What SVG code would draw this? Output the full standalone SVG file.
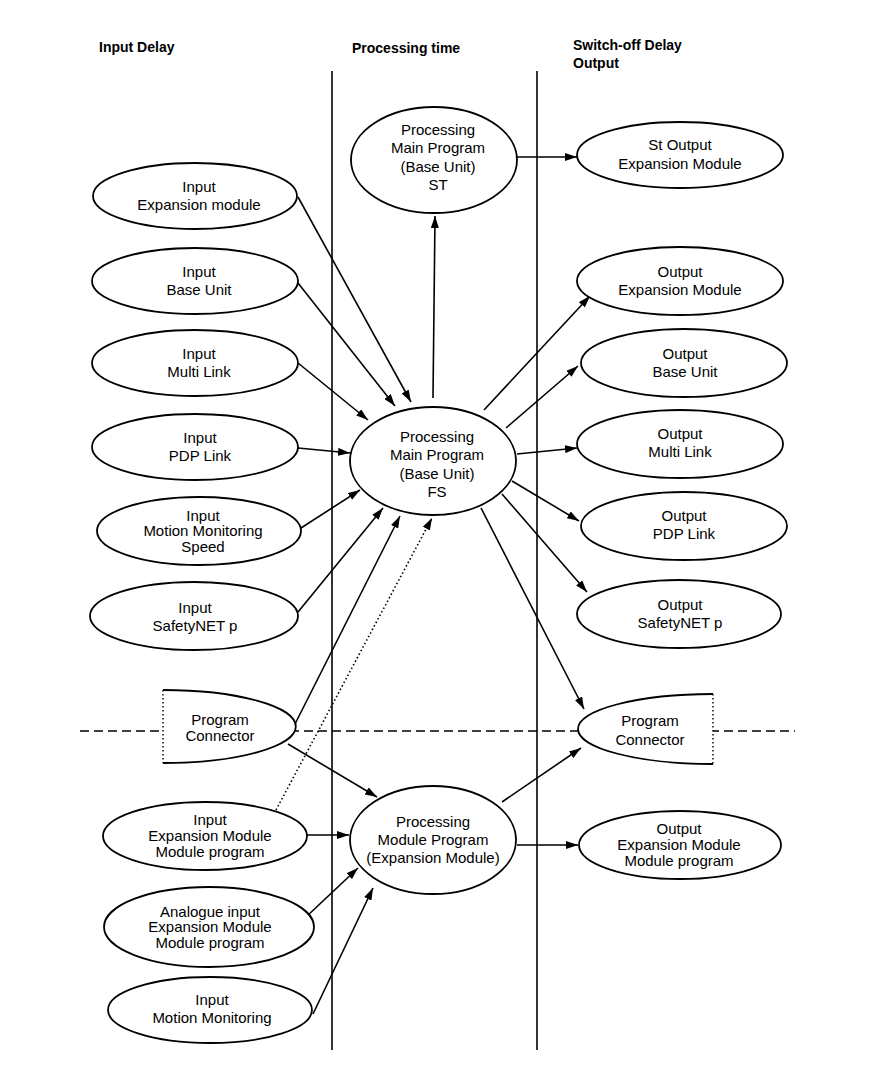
<svg xmlns="http://www.w3.org/2000/svg" width="890" height="1086" viewBox="0 0 890 1086">
<defs>
<marker id="ah" viewBox="0 0 12 8" refX="12" refY="4" markerWidth="12" markerHeight="8" markerUnits="userSpaceOnUse" orient="auto">
<path d="M0,0 L12,4 L0,8 Z" fill="#000"/>
</marker>
</defs>
<style>
text{font-family:"Liberation Sans",Arial,sans-serif;font-size:15px;fill:#000;text-anchor:middle}
.h{font-size:14px;font-weight:bold;text-anchor:start}
ellipse,.pc{fill:#fff;stroke:#000;stroke-width:1.8}
.c line{stroke:#000;stroke-width:1.6;marker-end:url(#ah)}
.dot{stroke:#000;stroke-width:1.4;stroke-dasharray:1.5,2.5;fill:none}
</style>
<rect width="890" height="1086" fill="#fff"/>
<g id="headers">
<text class="h" x="99" y="52">Input Delay</text>
<text class="h" x="352" y="53">Processing time</text>
<text class="h" x="573" y="50">Switch-off Delay</text>
<text class="h" x="573" y="68">Output</text>
</g>
<g id="lanes" stroke="#000" stroke-width="1.6">
<line x1="332" y1="71" x2="332" y2="1050"/>
<line x1="537" y1="71" x2="537" y2="1050"/>
<line x1="80" y1="731" x2="795" y2="731" stroke-dasharray="9,5"/>
</g>
<g class="c" id="connectors">
<line x1="517" y1="157" x2="577" y2="157"/>
<line x1="433" y1="398" x2="435" y2="216"/>
<line x1="298" y1="197" x2="411" y2="402"/>
<line x1="298" y1="283" x2="395" y2="406"/>
<line x1="298" y1="363" x2="368" y2="420"/>
<line x1="298" y1="448" x2="350" y2="453"/>
<line x1="301" y1="528" x2="360" y2="490"/>
<line x1="298" y1="612" x2="383" y2="508"/>
<line x1="294" y1="726" x2="400" y2="516"/>
<line x1="288" y1="744" x2="377" y2="797"/>
<line x1="306" y1="835" x2="349" y2="835"/>
<line x1="306" y1="917" x2="358" y2="868"/>
<line x1="313" y1="1014" x2="373" y2="888"/>
<line x1="484" y1="410" x2="590" y2="296"/>
<line x1="506" y1="428" x2="578" y2="366"/>
<line x1="517" y1="454" x2="577" y2="448"/>
<line x1="512" y1="481" x2="579" y2="521"/>
<line x1="502" y1="494" x2="587" y2="592"/>
<line x1="481" y1="508" x2="584" y2="709"/>
<line x1="502" y1="802" x2="581" y2="748"/>
<line x1="517" y1="845" x2="578" y2="845"/>
<line x1="276" y1="810" x2="432" y2="518" stroke-dasharray="1.5,2.5" stroke-width="1.4"/>
</g>
<g id="n_in_exp"><ellipse cx="195" cy="196" rx="102" ry="33"/><text x="199" y="192">Input</text><text x="199" y="210">Expansion module</text></g>
<g id="n_in_base"><ellipse cx="195" cy="281" rx="103" ry="33"/><text x="199" y="277">Input</text><text x="199" y="295">Base Unit</text></g>
<g id="n_in_multi"><ellipse cx="195" cy="363" rx="103" ry="33"/><text x="199" y="359">Input</text><text x="199" y="377">Multi Link</text></g>
<g id="n_in_pdp"><ellipse cx="195" cy="447" rx="103" ry="33"/><text x="200" y="443">Input</text><text x="200" y="461">PDP Link</text></g>
<g id="n_in_mms"><ellipse cx="199" cy="531" rx="102" ry="34"/><text x="203" y="521">Input</text><text x="203" y="536">Motion Monitoring</text><text x="203" y="552">Speed</text></g>
<g id="n_in_snet"><ellipse cx="194" cy="616" rx="104" ry="34"/><text x="195" y="613">Input</text><text x="195" y="631">SafetyNET p</text></g>
<g id="n_pc_left"><path class="pc" d="M163,690 A131,36 0 0 1 163,763"/><line x1="163" y1="690" x2="163" y2="763" class="dot"/><text x="220" y="725">Program</text><text x="220" y="741">Connector</text></g>
<g id="n_in_expprog"><ellipse cx="205" cy="836" rx="102" ry="34"/><text x="210" y="825">Input</text><text x="210" y="841">Expansion Module</text><text x="210" y="857">Module program</text></g>
<g id="n_in_analog"><ellipse cx="209" cy="927" rx="105" ry="40"/><text x="210" y="917">Analogue input</text><text x="210" y="932">Expansion Module</text><text x="210" y="948">Module program</text></g>
<g id="n_in_mm"><ellipse cx="210" cy="1010" rx="102" ry="33"/><text x="212" y="1005">Input</text><text x="212" y="1023">Motion Monitoring</text></g>
<g id="n_proc_st"><ellipse cx="434" cy="160" rx="83" ry="53"/><text x="438" y="135">Processing</text><text x="438" y="153">Main Program</text><text x="438" y="172">(Base Unit)</text><text x="438" y="190">ST</text></g>
<g id="n_proc_fs"><ellipse cx="433" cy="461" rx="83" ry="54"/><text x="437" y="442">Processing</text><text x="437" y="460">Main Program</text><text x="437" y="479">(Base Unit)</text><text x="437" y="497">FS</text></g>
<g id="n_proc_mod"><ellipse cx="433" cy="840" rx="83" ry="54"/><text x="433" y="827">Processing</text><text x="433" y="845">Module Program</text><text x="433" y="863">(Expansion Module)</text></g>
<g id="n_out_st"><ellipse cx="680" cy="155" rx="103" ry="33"/><text x="680" y="150">St Output</text><text x="680" y="169">Expansion Module</text></g>
<g id="n_out_exp"><ellipse cx="680" cy="281" rx="103" ry="34"/><text x="680" y="277">Output</text><text x="680" y="295">Expansion Module</text></g>
<g id="n_out_base"><ellipse cx="684" cy="363" rx="103" ry="34"/><text x="685" y="359">Output</text><text x="685" y="377">Base Unit</text></g>
<g id="n_out_multi"><ellipse cx="680" cy="444" rx="103" ry="34"/><text x="680" y="439">Output</text><text x="680" y="457">Multi Link</text></g>
<g id="n_out_pdp"><ellipse cx="684" cy="526" rx="103" ry="34"/><text x="684" y="521">Output</text><text x="684" y="539">PDP Link</text></g>
<g id="n_out_snet"><ellipse cx="679" cy="614" rx="102" ry="34"/><text x="680" y="610">Output</text><text x="680" y="628">SafetyNET p</text></g>
<g id="n_pc_right"><path class="pc" d="M713,694 A135,35 0 0 0 713,764"/><line x1="713" y1="694" x2="713" y2="764" class="dot"/><text x="650" y="726">Program</text><text x="650" y="745">Connector</text></g>
<g id="n_out_expprog"><ellipse cx="680" cy="845" rx="101" ry="34"/><text x="679" y="834">Output</text><text x="679" y="850">Expansion Module</text><text x="679" y="866">Module program</text></g>
</svg>
